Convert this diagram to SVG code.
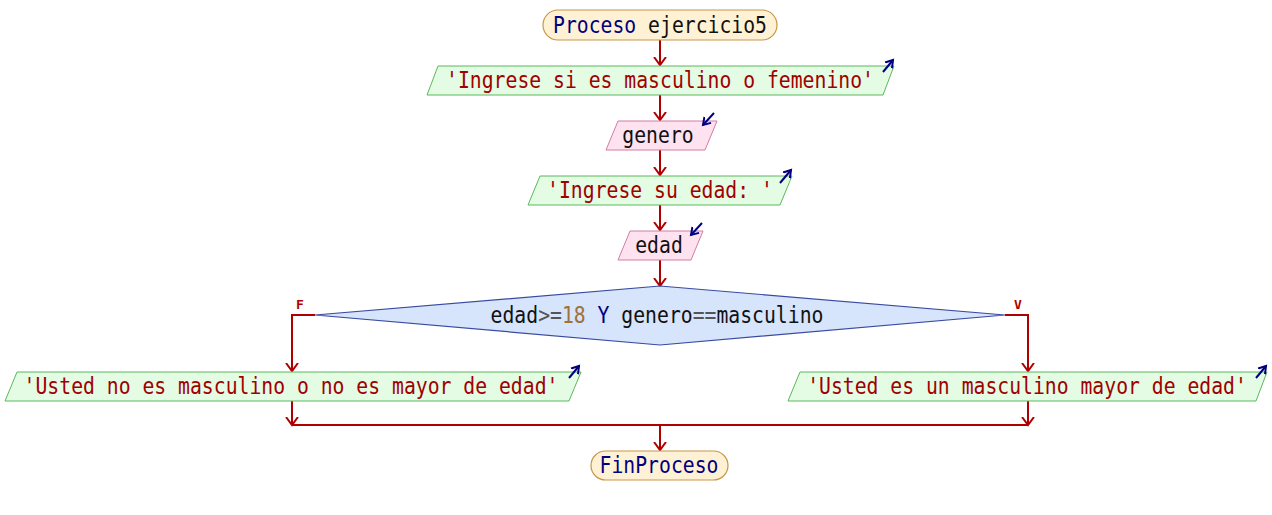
<svg xmlns="http://www.w3.org/2000/svg" width="1272" height="515" viewBox="0 0 1272 515">
<defs>
<marker id="ah" markerUnits="userSpaceOnUse" markerWidth="16" markerHeight="16" refX="8" refY="8" orient="auto"><path d="M0,2 L8,8 L0,14" fill="none" stroke="#b00000" stroke-width="2"/></marker>
<marker id="ih" markerUnits="userSpaceOnUse" markerWidth="12" markerHeight="12" refX="7" refY="6" orient="auto"><path d="M0,1.5 L7,6 L0,10.5" fill="none" stroke="#000080" stroke-width="2"/></marker>
<style>
text{font-family:"DejaVu Sans Mono","Liberation Mono",monospace;font-size:22.5px;text-anchor:middle}
.term{fill:#fff2d4;stroke:#c8964a;stroke-width:1.2}
.out{fill:#e4fbe4;stroke:#5cb85c;stroke-width:1}
.inp{fill:#ffe2f0;stroke:#d07ca4;stroke-width:1}
.dec{fill:#d6e4fc;stroke:#3a4aa0;stroke-width:1.2}
.kw{fill:#000080}
.str{fill:#a00000}
.id{fill:#111}
.op{fill:#555}
.num{fill:#a07038}
.icon{stroke:#000080;stroke-width:2;fill:none;marker-end:url(#ih)}
.c{stroke:#b00000;stroke-width:2;fill:none}
.ca{stroke:#b00000;stroke-width:2;fill:none;marker-end:url(#ah)}
.lbl{fill:#b00000;font-size:13px;font-weight:bold}
</style>
</defs>
<g id="connectors">
<path class="ca" d="M660,40 L660,65"/>
<path class="ca" d="M660,95 L660,120"/>
<path class="ca" d="M660,150 L660,175"/>
<path class="ca" d="M660,205 L660,230"/>
<path class="ca" d="M660,260 L660,286"/>
<path class="ca" d="M315,315 L292,315 L292,371"/>
<path class="ca" d="M1005,315 L1028,315 L1028,371"/>
<path class="ca" d="M292,401 L292,425"/>
<path class="ca" d="M1028,401 L1028,425"/>
<path class="c" d="M292,425 L1028,425"/>
<path class="ca" d="M660,425 L660,450"/>
<text class="lbl" x="300" y="309">F</text>
<text class="lbl" x="1018" y="309">V</text>
</g>
<g id="start">
<rect class="term" x="543" y="10" width="234" height="30" rx="15"/>
<text transform="matrix(0.878 0 0 1 660 33)"><tspan class="kw">Proceso</tspan><tspan class="id"> ejercicio5</tspan></text>
</g>
<g id="out1">
<polygon class="out" points="438,66 894,66 883,95 427,95"/>
<text class="str" transform="matrix(0.878 0 0 1 660 88)">'Ingrese si es masculino o femenino'</text>
<path class="icon" d="M883,72 L893,60"/>
</g>
<g id="in1">
<polygon class="inp" points="618,121 717,121 705,150 606,150"/>
<text class="id" transform="matrix(0.878 0 0 1 658 143)">genero</text>
<path class="icon" d="M714,113 L703,125"/>
</g>
<g id="out2">
<polygon class="out" points="540,176 792,176 780,205 528,205"/>
<text class="str" transform="matrix(0.878 0 0 1 660 198)">'Ingrese su edad: '</text>
<path class="icon" d="M780,183 L791,170"/>
</g>
<g id="in2">
<polygon class="inp" points="630,231 703,231 691,260 618,260"/>
<text class="id" transform="matrix(0.878 0 0 1 659 253)">edad</text>
<path class="icon" d="M702,223 L691,235"/>
</g>
<g id="decision">
<polygon class="dec" points="315,315 660,286 1005,315 660,345"/>
<text transform="matrix(0.878 0 0 1 657 323)"><tspan class="id">edad</tspan><tspan class="op">&gt;=</tspan><tspan class="num">18</tspan><tspan class="kw"> Y </tspan><tspan class="id">genero</tspan><tspan class="op">==</tspan><tspan class="id">masculino</tspan></text>
</g>
<g id="outF">
<polygon class="out" points="17,372 581,372 569,401 5,401"/>
<text class="str" transform="matrix(0.878 0 0 1 291 394)">'Usted no es masculino o no es mayor de edad'</text>
<path class="icon" d="M569,378 L579,366"/>
</g>
<g id="outV">
<polygon class="out" points="800,372 1267,372 1256,401 788,401"/>
<text class="str" transform="matrix(0.878 0 0 1 1027 394)">'Usted es un masculino mayor de edad'</text>
<path class="icon" d="M1256,378 L1266,366"/>
</g>
<g id="end">
<rect class="term" x="591" y="451" width="137" height="29" rx="14.5"/>
<text class="kw" transform="matrix(0.878 0 0 1 659 473)">FinProceso</text>
</g>
</svg>
